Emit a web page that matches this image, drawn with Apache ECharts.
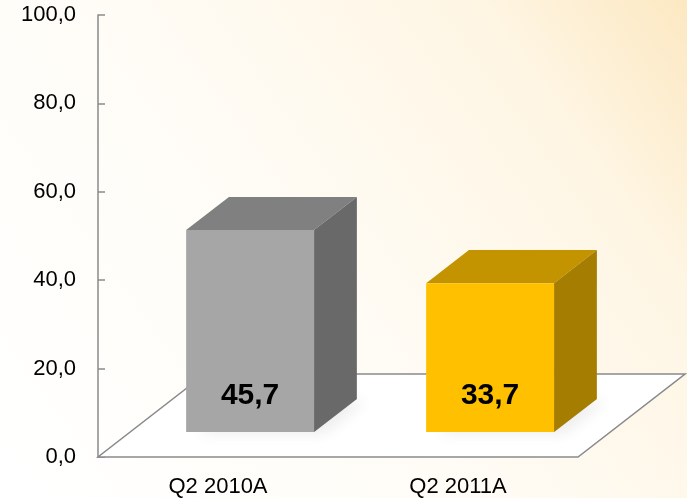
<!DOCTYPE html>
<html>
<head>
<meta charset="utf-8">
<script src="https://cdn.jsdelivr.net/npm/echarts@6/dist/echarts.min.js"></script>
<style>
  html, body { margin: 0; padding: 0; }
  #chart { width: 687px; height: 498px; }
</style>
</head>
<body>
<div id="chart"></div>
<script>
const categories = ["Q2 2010A", "Q2 2011A"];
const values = [45.7, 33.7];
const yTicks = [0, 20, 40, 60, 80, 100];

// front / top / side colours for each bar
const faceColors = [
  { front: "#a6a6a6", top: "#808080", side: "#696969" },
  { front: "#ffc000", top: "#c49300", side: "#a57d00" }
];

// fake 3D: floor depth vector in pixels, bars sit between 30% and 70% of it
const depthX = 107;
const depthY = -83;
const barFront = 0.3;
const barBack = 0.7;

const fmt = v => v.toFixed(1).replace(".", ",");

const chart = echarts.init(document.getElementById("chart"));

function renderFloor(params, api) {
  const cs = params.coordSys;
  const x0 = cs.x, x1 = cs.x + cs.width, y0 = cs.y + cs.height;
  return {
    type: "polygon",
    shape: {
      points: [
        [x0, y0], [x1, y0],
        [x1 + depthX, y0 + depthY], [x0 + depthX, y0 + depthY]
      ]
    },
    style: { fill: "#ffffff", stroke: "#8a8a8a", lineWidth: 1.5 }
  };
}

function renderBar(params, api) {
  const idx = api.value(0);
  const base = api.coord([idx, 0]);
  const top = api.coord([idx, api.value(1)]);
  const bw = api.size([1, 0])[0] * 0.533;
  const fx = barFront * depthX, fy = barFront * depthY;
  const dx = (barBack - barFront) * depthX, dy = (barBack - barFront) * depthY;
  const l = base[0] - bw / 2 + fx, r = base[0] + bw / 2 + fx;
  const b = base[1] + fy, t = top[1] + fy;
  const c = faceColors[idx];
  return {
    type: "group",
    children: [
      {
        type: "polygon",
        shape: { points: [[l, b], [r, b], [r + dx, b + dy], [l + dx, b + dy]] },
        style: {
          fill: "rgba(0,0,0,0.2)",
          shadowBlur: 14,
          shadowColor: "rgba(0,0,0,0.35)",
          shadowOffsetX: 10,
          shadowOffsetY: 2
        }
      },
      {
        type: "polygon",
        shape: { points: [[l, t], [r, t], [r + dx, t + dy], [l + dx, t + dy]] },
        style: { fill: c.top }
      },
      {
        type: "polygon",
        shape: { points: [[r, b], [r + dx, b + dy], [r + dx, t + dy], [r, t]] },
        style: { fill: c.side }
      },
      {
        type: "rect",
        shape: { x: l, y: t, width: r - l, height: b - t },
        style: { fill: c.front }
      },
      {
        type: "text",
        x: (l + r) / 2,
        y: b - 36,
        style: {
          text: fmt(api.value(1)),
          fill: "#000",
          font: "bold 30px 'Liberation Sans', Arial, sans-serif",
          align: "center",
          verticalAlign: "middle"
        }
      }
    ]
  };
}

chart.setOption({
  backgroundColor: {
    type: "linear",
    x: 0, y: 1, x2: 1, y2: 0,
    colorStops: [
      { offset: 0, color: "#ffffff" },
      { offset: 0.45, color: "#fffcf6" },
      { offset: 0.8, color: "#fef5e3" },
      { offset: 1, color: "#fce8c2" }
    ]
  },
  animation: false,
  grid: { left: 98, top: 15, width: 480, height: 443 },
  xAxis: {
    type: "category",
    data: categories,
    axisLine: { show: false },
    axisTick: { show: false },
    axisLabel: {
      margin: 19,
      color: "#000",
      fontSize: 22,
      fontFamily: "'Liberation Sans', Arial, sans-serif"
    }
  },
  yAxis: {
    type: "value",
    min: yTicks[0],
    max: yTicks[yTicks.length - 1],
    interval: yTicks[1] - yTicks[0],
    splitLine: { show: false },
    axisLine: { show: true, lineStyle: { color: "#8a8a8a", width: 1.5 } },
    axisTick: { show: true, inside: true, length: 7, lineStyle: { color: "#8a8a8a", width: 1.5 } },
    axisLabel: {
      margin: 22,
      color: "#000",
      fontSize: 22,
      fontFamily: "'Liberation Sans', Arial, sans-serif",
      formatter: fmt
    }
  },
  series: [
    {
      type: "custom",
      renderItem: renderFloor,
      data: [[0, 0]],
      clip: false,
      z: 1,
      silent: true
    },
    {
      type: "custom",
      renderItem: renderBar,
      data: values.map((v, i) => [i, v]),
      clip: false,
      z: 2
    }
  ]
});
</script>
</body>
</html>
